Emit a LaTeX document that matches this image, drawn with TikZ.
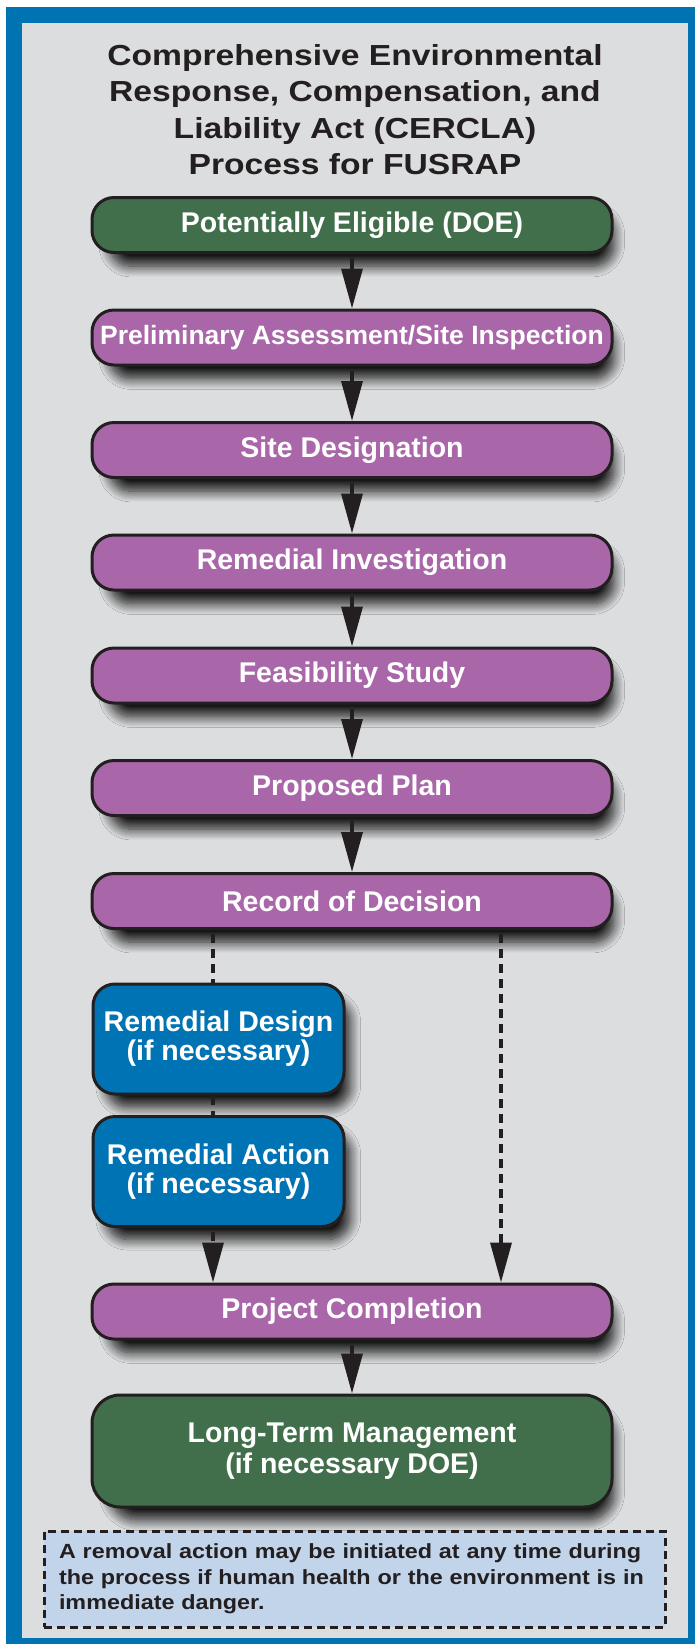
\documentclass[tikz,border=0pt]{standalone}
\usepackage{fontspec}
\setmainfont{Liberation Sans}
\newfontfamily\titlefont{Liberation Sans}[FakeStretch=1.16]
\newfontfamily\notefont{Liberation Sans}[FakeStretch=1.14]
\usepackage{tikz}
\usetikzlibrary{positioning}
\usetikzlibrary{arrows.meta,shadows,shadows.blur}
\usetikzlibrary{calc}
\definecolor{frameblue}{RGB}{0,115,178}
\definecolor{bggray}{RGB}{220,221,223}
\definecolor{boxgreen}{RGB}{66,111,75}
\definecolor{boxpurple}{RGB}{169,103,170}
\definecolor{boxblue}{RGB}{0,115,180}
\definecolor{notefill}{RGB}{194,212,234}
\definecolor{inkdark}{RGB}{35,31,32}
\tikzstyle{stepbox}=[draw=inkdark,line width=3pt,rounded corners=22pt,inner sep=0pt,text=white,align=center,font=\fontsize{28.5}{29}\selectfont\bfseries,blur shadow={shadow xshift=10pt,shadow yshift=-15pt,shadow blur radius=11pt,shadow blur steps=14,shadow opacity=90,shadow scale=0.97}]
\tikzstyle{widebox}=[stepbox,minimum width=520pt,minimum height=55pt]
\tikzstyle{smallbox}=[stepbox,minimum width=251pt,minimum height=110pt]
\tikzstyle{edge} = [draw,line width=3.5pt,inkdark,-{Triangle[length=40pt,width=21pt]},shorten <=4pt]
\tikzstyle{dashline} = [draw,line width=3.5pt,inkdark,dash pattern=on 9pt off 6pt]
\tikzstyle{dashedge} = [dashline,-{Triangle[length=40pt,width=21pt]}]

\begin{document}
\begin{tikzpicture}[x=1pt,y=-1pt]
    \useasboundingbox (0,0) rectangle (695,1644);
    % frame and background
    \fill[frameblue] (6,7) rectangle (695,1644);
    \fill[bggray] (22,23) rectangle (688,1638);

    % title
    \node[anchor=north,inner sep=0pt,align=center,text=inkdark,font=\titlefont\fontsize{29}{36.5}\selectfont\bfseries] (title) at (355,44)
        {Comprehensive Environmental\\Response, Compensation, and\\Liability Act (CERCLA)\\Process for FUSRAP};

    % First the main column of steps
    \node[widebox,fill=boxgreen] (pe) at (352,225) {Potentially Eligible (DOE)};
    \foreach \pos/\name/\label in {{(352,337.5)/pa/{\fontsize{26.5}{29}\selectfont Preliminary Assessment/Site Inspection}},
            {(352,450)/sd/Site Designation}, {(352,562.5)/ri/Remedial Investigation},
            {(352,675.5)/fs/Feasibility Study}, {(352,788)/pp/Proposed Plan},
            {(352,901)/rod/Record of Decision}, {(352,1311.5)/pc/Project Completion}}
        \node[widebox,fill=boxpurple] (\name) at \pos {\label};

    % optional remedial steps
    \foreach \pos/\name/\label in {{(218.5,1039)/rd/Remedial Design}, {(218.5,1171.5)/ra/Remedial Action}}
        \node[smallbox,fill=boxblue] (\name) at \pos {\label\\(if necessary)};

    \node[widebox,minimum height=112pt,rounded corners=28pt,fill=boxgreen,font=\fontsize{28.5}{31}\selectfont\bfseries] (ltm) at (352,1451)
        {Long-Term Management\\(if necessary DOE)};

    % note at the bottom
    \node[draw=inkdark,line width=3pt,dash pattern=on 8pt off 5pt,fill=notefill,minimum width=621pt,minimum height=96pt,
          text width=591pt,align=left,inner sep=0pt,text=inkdark,font=\notefont\fontsize{20.5}{25.5}\selectfont\bfseries] (note) at (354.5,1579)
        {A removal action may be initiated at any time during\\the process if human health or the environment is in\\immediate danger.};

    % Connect the steps
    \foreach \source/\dest in {pe/pa, pa/sd, sd/ri, ri/fs, fs/pp, pp/rod, pc/ltm}
        \draw[edge] (\source) -- (\dest);

    % dashed paths after the decision
    \coordinate (lcol) at (213,0);
    \coordinate (rcol) at (501,0);
    \draw[dashline] ([yshift=-4pt]rod.south -| lcol) -- (rd.north -| lcol);
    \draw[dashline] (rd.south -| lcol) -- (ra.north -| lcol);
    \draw[dashedge] ([yshift=-4pt]ra.south -| lcol) -- (pc.north -| lcol);
    \draw[dashedge] ([yshift=-4pt]rod.south -| rcol) -- (pc.north -| rcol);
\end{tikzpicture}
\end{document}
